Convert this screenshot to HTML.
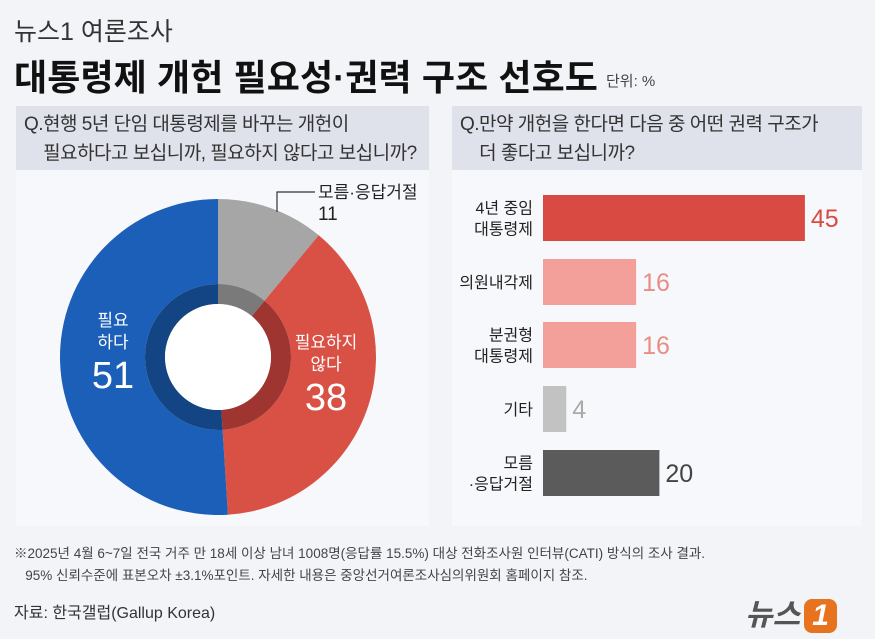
<!DOCTYPE html>
<html><head><meta charset="utf-8">
<style>
body{margin:0;width:875px;height:639px;background:#f2f4f8;font-family:"Liberation Sans","Noto Sans CJK KR",sans-serif;position:relative;overflow:hidden;color:#222}
.abs{position:absolute}
.panel{position:absolute;background:#f7f8fb;top:106px;height:420px}
.q{position:absolute;background:#dfe2ea;top:106px;height:64px;font-size:19px;letter-spacing:-0.5px;white-space:nowrap;color:#333;line-height:29px;padding:4px 0 0 8px;box-sizing:border-box}
</style></head><body>
<div class="abs" style="left:14px;top:12px;font-size:25px;color:#333">뉴스1 여론조사</div>
<div class="abs" style="left:14px;top:49px;font-size:36px;font-weight:bold;color:#111;letter-spacing:0.1px">대통령제 개헌 필요성·권력 구조 선호도</div>
<div class="abs" style="left:606px;top:70px;font-size:15px;color:#444">단위: %</div>
<div class="panel" style="left:16px;width:413px"></div>
<div class="panel" style="left:452px;width:410px"></div>
<div class="q" style="left:16px;width:413px">Q.현행 5년 단임 대통령제를 바꾸는 개헌이<br>&nbsp;&nbsp;&nbsp;&nbsp;필요하다고 보십니까, 필요하지 않다고 보십니까?</div>
<div class="q" style="left:452px;width:410px">Q.만약 개헌을 한다면 다음 중 어떤 권력 구조가<br>&nbsp;&nbsp;&nbsp;&nbsp;더 좋다고 보십니까?</div>
<svg class="abs" style="left:0;top:0" width="875" height="639" id="svg"></svg>
<div class="abs" style="left:14px;top:543px;font-size:13.5px;color:#444;line-height:22px">※2025년 4월 6~7일 전국 거주 만 18세 이상 남녀 1008명(응답률 15.5%) 대상 전화조사원 인터뷰(CATI) 방식의 조사 결과.<br>&nbsp;&nbsp;&nbsp;95% 신뢰수준에 표본오차 ±3.1%포인트. 자세한 내용은 중앙선거여론조사심의위원회 홈페이지 참조.</div>
<div class="abs" style="left:14px;top:599px;font-size:16px;color:#333">자료: 한국갤럽(Gallup Korea)</div>
<div class="abs" style="left:745px;top:590px;font-size:30px;font-weight:bold;color:#555;font-style:italic">뉴스<span style="display:inline-block;background:#e8731f;color:#fff;border-radius:8px;padding:0 8px;margin-left:4px">1</span></div>
<script>
const pieLabels=["모름·응답거절","필요하지 않다","필요하다"];
const pieValues=[11,38,51];
const barCats=["4년 중임 대통령제","의원내각제","분권형 대통령제","기타","모름·응답거절"];
const barValues=[45,16,16,4,20];
const NS="http://www.w3.org/2000/svg";
const svg=document.getElementById('svg');
function mk(t,a){const e=document.createElementNS(NS,t);for(const k in a)e.setAttribute(k,a[k]);svg.appendChild(e);return e;}
const cx=218,cy=357,R=158,R2=73,R3=53;
const outer=["#a6a6a6","#d95044","#1c5fb8"],inner=["#7a7a7a","#9e3530","#134585"];
const total=pieValues.reduce((a,b)=>a+b,0);
function arc(r0,r1,a0,a1){const p=(r,a)=>[cx+r*Math.sin(a),cy-r*Math.cos(a)];const l=(a1-a0)>Math.PI?1:0;
const A=p(r1,a0),B=p(r1,a1),C=p(r0,a1),D=p(r0,a0);
return `M${A}A${r1},${r1} 0 ${l} 1 ${B}L${C}A${r0},${r0} 0 ${l} 0 ${D}Z`;}
let acc=0;
pieValues.forEach((v,i)=>{const a0=acc/total*2*Math.PI;acc+=v;const a1=acc/total*2*Math.PI;
let e=mk('path',{d:arc(R2,R,a0,a1),fill:outer[i]});


e=mk('path',{d:arc(R3,R2,a0,a1),fill:inner[i]});

});
mk('circle',{cx,cy,r:R3,fill:'#fff'});
function txt(x,y,s,size,fill,anchor,w){const e=mk('text',{x,y,'font-size':size,fill,'text-anchor':anchor||'middle','font-weight':w||'normal'});e.textContent=s;return e;}
mk('polyline',{points:"277,212 277,192 315,192",fill:'none',stroke:'#333','stroke-width':1.2});
let t=txt(318,198,pieLabels[0],17,'#222','start');


txt(318,220,String(pieValues[0]),19,'#222','start');
txt(326,348,'필요하지',17,'#fff');txt(326,370,'않다',17,'#fff');
txt(326,410,String(pieValues[1]),38,'#fff');
txt(113,326,'필요',17,'#fff');txt(113,348,'하다',17,'#fff');
txt(113,388,String(pieValues[2]),38,'#fff');
const x0=543,scale=5.82,tops=[195,259,322,386,450],bh=46;
const bcol=["#d94a42","#f4a09a","#f4a09a","#c2c2c2","#5b5b5b"],vcol=["#d94a42","#e88d86","#e88d86","#aaa","#444"];
const lab=[["4년 중임","대통령제"],["의원내각제"],["분권형","대통령제"],["기타"],["모름","·응답거절"]];
barValues.forEach((v,i)=>{const y=tops[i];
const r=mk('rect',{x:x0,y,width:v*scale,height:bh,fill:bcol[i]});


const ls=lab[i];ls.forEach((s,j)=>txt(533,y+bh/2+6+(j-(ls.length-1)/2)*21,s,16,'#222','end'));
txt(x0+v*scale+6,y+bh/2+9,String(v),25,vcol[i],'start');});
</script>
</body></html>
